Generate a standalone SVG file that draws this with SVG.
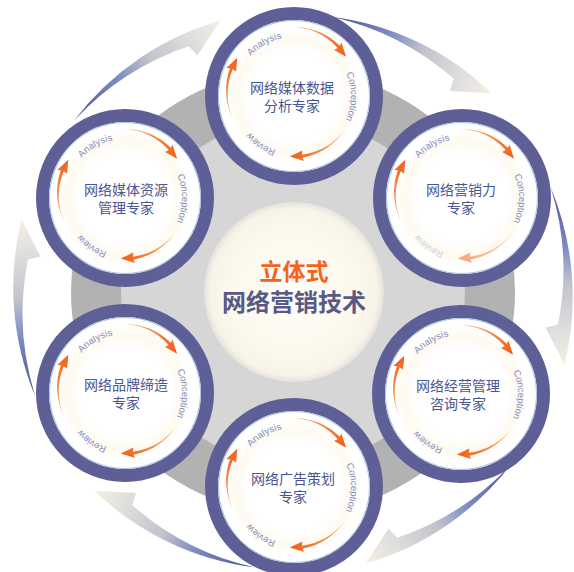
<svg xmlns="http://www.w3.org/2000/svg" xmlns:xlink="http://www.w3.org/1999/xlink" width="574" height="572" viewBox="0 0 574 572">
<style>
.ring{fill:url(#satFill);stroke:#5e5f97;stroke-width:13}
.inline{fill:none;stroke:#a9c2e2;stroke-width:1}
.lbl{font-family:"Noto Sans CJK SC","Liberation Sans",sans-serif;font-size:14px;fill:#4b5590;text-anchor:middle}
.arc{font-family:"Liberation Sans",Arial,sans-serif;font-size:9.5px;fill:#7f8cbc;text-anchor:middle}
.c1{font-family:"Noto Sans CJK SC",sans-serif;font-weight:700;font-size:23px;fill:#f4631e;text-anchor:middle}
.c2{font-family:"Noto Sans CJK SC",sans-serif;font-weight:700;font-size:24px;fill:#575a85;text-anchor:middle}
</style>
<defs>
<linearGradient id="outerGrad" gradientUnits="userSpaceOnUse" x1="-104" y1="-258" x2="73" y2="-271">
<stop offset="0" stop-color="#4f4f95"/>
<stop offset="0.35" stop-color="#7f8ec4"/>
<stop offset="0.55" stop-color="#c2c4cc"/>
<stop offset="0.8" stop-color="#dedede"/>
<stop offset="1" stop-color="#f6f0e2"/>
</linearGradient>
<linearGradient id="orGrad" gradientUnits="userSpaceOnUse" x1="0" y1="-65" x2="54" y2="-35">
<stop offset="0" stop-color="#fbc49a"/>
<stop offset="0.45" stop-color="#f58a45"/>
<stop offset="1" stop-color="#f2601a"/>
</linearGradient>
<radialGradient id="satFill" cx="0.5" cy="0.5" r="0.5">
<stop offset="0" stop-color="#ffffff"/>
<stop offset="0.55" stop-color="#ffffff"/>
<stop offset="0.7" stop-color="#fefaf0"/>
<stop offset="0.82" stop-color="#ffffff"/>
<stop offset="1" stop-color="#ffffff"/>
</radialGradient>
<radialGradient id="creamFill" cx="0.5" cy="0.5" r="0.5">
<stop offset="0" stop-color="#fffefb"/>
<stop offset="0.7" stop-color="#fdf8ec"/>
<stop offset="0.93" stop-color="#f8f3e8"/>
<stop offset="1" stop-color="#e4e2de"/>
</radialGradient>
<path id="outerArrow" fill="url(#outerGrad)" d="M-104.14,-257.76 A281,281 0 0 1 72.73,-271.42 L35.49,-252.52 L32.54,-265 A275,275 0 0 0 -104.14,-257.76 Z"/>
<path id="orArrow" fill="url(#orGrad)" d="M0,-65 A66.5,66.5 0 0 1 47.83,-46.2 L49.5,-49.5 L54.1,-35.13 L42.07,-42.07 L45.68,-44.11 A65,65 0 0 0 0,-65 Z"/>
<path id="tp" d="M0,-57 A57,57 0 1 1 0,57 A57,57 0 1 1 0,-57"/>
</defs>
<rect width="574" height="572" fill="#ffffff"/>
<g id="connectors" transform="translate(293,292)">
<use xlink:href="#outerArrow" transform="rotate(30)"/>
<use xlink:href="#outerArrow" transform="rotate(90)"/>
<use xlink:href="#outerArrow" transform="rotate(150)"/>
<use xlink:href="#outerArrow" transform="rotate(210)"/>
<use xlink:href="#outerArrow" transform="rotate(270)"/>
<use xlink:href="#outerArrow" transform="rotate(330)"/>
</g>
<g id="hub">
<circle cx="293" cy="292" r="222" fill="#b2b2b2"/>
<circle cx="293" cy="292" r="172" fill="#d6d6d6"/>
<circle cx="294" cy="292" r="90" fill="url(#creamFill)"/>
<text class="c1" x="294" y="280">立体式</text>
<text class="c2" x="294" y="311">网络营销技术</text>
</g>
<g id="sat-top" transform="translate(294,96)">
<circle class="ring" r="82.5"/><circle class="inline" r="75.5"/>
<g transform="translate(-2,-4)"><use xlink:href="#orArrow"/><use xlink:href="#orArrow" transform="rotate(125)"/><use xlink:href="#orArrow" transform="rotate(245)"/></g>
<text class="arc" dy="-2"><textPath xlink:href="#tp" startOffset="328">Analysis</textPath></text>
<text class="arc"><textPath xlink:href="#tp" startOffset="90">Conception</textPath></text>
<text class="arc"><textPath xlink:href="#tp" startOffset="213">Review</textPath></text>
<text class="lbl" x="-2" y="-3">网络媒体数据</text>
<text class="lbl" x="-2" y="15">分析专家</text>
</g>
<g id="sat-upper-right" transform="translate(462,198)">
<circle class="ring" r="82.5"/><circle class="inline" r="75.5"/>
<g transform="translate(-2,-4)"><use xlink:href="#orArrow"/><use xlink:href="#orArrow" transform="rotate(125)" opacity="0.55"/><use xlink:href="#orArrow" transform="rotate(245)"/></g>
<text class="arc" dy="-2"><textPath xlink:href="#tp" startOffset="328">Analysis</textPath></text>
<text class="arc"><textPath xlink:href="#tp" startOffset="90">Conception</textPath></text>
<text class="arc" opacity="0.4"><textPath xlink:href="#tp" startOffset="213">Review</textPath></text>
<text class="lbl" x="-1" y="-3">网络营销力</text>
<text class="lbl" x="-1" y="15">专家</text>
</g>
<g id="sat-lower-right" transform="translate(461,394)">
<circle class="ring" r="82.5"/><circle class="inline" r="75.5"/>
<g transform="translate(-2,-4)"><use xlink:href="#orArrow"/><use xlink:href="#orArrow" transform="rotate(125)"/><use xlink:href="#orArrow" transform="rotate(245)"/></g>
<text class="arc" dy="-2"><textPath xlink:href="#tp" startOffset="328">Analysis</textPath></text>
<text class="arc"><textPath xlink:href="#tp" startOffset="90">Conception</textPath></text>
<text class="arc"><textPath xlink:href="#tp" startOffset="213">Review</textPath></text>
<text class="lbl" x="-3" y="-3">网络经营管理</text>
<text class="lbl" x="-3" y="15">咨询专家</text>
</g>
<g id="sat-bottom" transform="translate(294,487)">
<circle class="ring" r="82.5"/><circle class="inline" r="75.5"/>
<g transform="translate(-2,-4)"><use xlink:href="#orArrow"/><use xlink:href="#orArrow" transform="rotate(125)"/><use xlink:href="#orArrow" transform="rotate(245)"/></g>
<text class="arc" dy="-2"><textPath xlink:href="#tp" startOffset="328">Analysis</textPath></text>
<text class="arc"><textPath xlink:href="#tp" startOffset="90">Conception</textPath></text>
<text class="arc"><textPath xlink:href="#tp" startOffset="213">Review</textPath></text>
<text class="lbl" x="-1" y="-3">网络广告策划</text>
<text class="lbl" x="-1" y="15">专家</text>
</g>
<g id="sat-lower-left" transform="translate(125,393)">
<circle class="ring" r="82.5"/><circle class="inline" r="75.5"/>
<g transform="translate(-2,-4)"><use xlink:href="#orArrow"/><use xlink:href="#orArrow" transform="rotate(125)"/><use xlink:href="#orArrow" transform="rotate(245)"/></g>
<text class="arc" dy="-2"><textPath xlink:href="#tp" startOffset="328">Analysis</textPath></text>
<text class="arc"><textPath xlink:href="#tp" startOffset="90">Conception</textPath></text>
<text class="arc"><textPath xlink:href="#tp" startOffset="213">Review</textPath></text>
<text class="lbl" x="1" y="-3">网络品牌缔造</text>
<text class="lbl" x="1" y="15">专家</text>
</g>
<g id="sat-upper-left" transform="translate(125,198)">
<circle class="ring" r="82.5"/><circle class="inline" r="75.5"/>
<g transform="translate(-2,-4)"><use xlink:href="#orArrow"/><use xlink:href="#orArrow" transform="rotate(125)"/><use xlink:href="#orArrow" transform="rotate(245)"/></g>
<text class="arc" dy="-2"><textPath xlink:href="#tp" startOffset="328">Analysis</textPath></text>
<text class="arc"><textPath xlink:href="#tp" startOffset="90">Conception</textPath></text>
<text class="arc"><textPath xlink:href="#tp" startOffset="213">Review</textPath></text>
<text class="lbl" x="1" y="-3">网络媒体资源</text>
<text class="lbl" x="1" y="15">管理专家</text>
</g>
</svg>
